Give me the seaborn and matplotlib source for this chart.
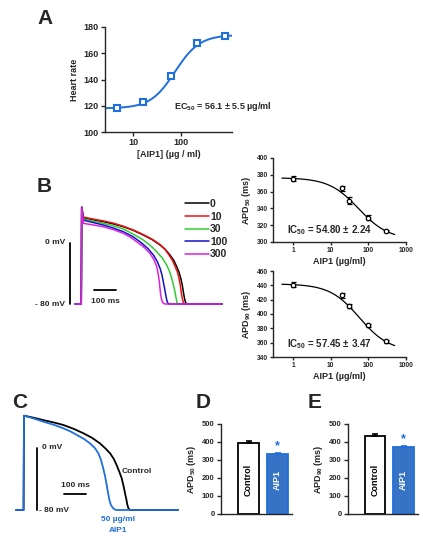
import numpy as np
import pandas as pd
import matplotlib
matplotlib.use('Agg')
import matplotlib.pyplot as plt
from matplotlib.ticker import NullLocator, FixedLocator
import seaborn as sbn

sbn.set_style('ticks')
plt.rcParams['font.family'] = ['Liberation Sans', 'DejaVu Sans']
plt.rcParams['font.weight'] = 'bold'
plt.rcParams['mathtext.fontset'] = 'custom'
plt.rcParams['mathtext.rm'] = 'Liberation Sans:bold'
plt.rcParams['mathtext.bf'] = 'Liberation Sans:bold'
plt.rcParams['mathtext.default'] = 'rm'
plt.rcParams['axes.linewidth'] = 1.0

W, H = 423, 541
BLUE = '#1f6fdc'

# ---- panel A: heart rate vs [AIP1]
hr_conc = [4.6, 16, 62, 215, 830]
hr_rate = [118, 122.5, 142.5, 167.5, 173]
hr_fit = {'bottom': 118, 'top': 174, 'ec50': 75, 'hill': -1.7}

# ---- panel B: action potentials (time ms, voltage mV)
ap_doses = ['0', '10', '30', '100', '300']
ap_colors = ['black', '#ee1111', '#33cc33', '#1111cc', '#dd22dd']
ap_t_0 = [-30, -2, 0, 8, 50, 98, 145, 189, 235, 280, 320, 356, 380, 401, 418, 432, 442, 450, 457, 462, 467, 471, 475, 481, 638]
ap_v_0 = [-80, -80, 47, 33, 30.5, 28, 25, 21.4, 16.5, 10.5, 4.5, -2.6, -8.5, -15.7, -22.5, -31, -38, -46, -55, -64, -72, -77, -79.3, -80, -80]
ap_t_10 = [-30, -2, 0, 8, 50, 98, 145, 189, 235, 280, 320, 356, 378, 395, 412, 425, 435, 442, 448, 452, 457, 461, 465, 470, 638]
ap_v_10 = [-80, -80, 47, 34, 31.5, 29, 26, 22, 17, 11, 5, -2, -8, -15, -22.5, -31, -38, -46, -55, -64, -72, -77, -79.3, -80, -80]
ap_t_30 = [-30, -2, 0, 8, 50, 98, 145, 189, 235, 280, 315, 341, 366, 386, 399, 409, 417, 424, 429, 433, 437, 442, 638]
ap_v_30 = [-80, -80, 47, 31.5, 28.7, 25.8, 22.4, 18.4, 11.5, 3.9, -4, -11.4, -19.5, -28.9, -37, -46, -55, -64, -72, -77.8, -79.5, -80, -80]
ap_t_100 = [-30, -2, 0, 8, 50, 98, 145, 189, 230, 265, 300, 326, 343, 356, 365, 371, 377, 382, 386, 390, 394, 400, 638]
ap_v_100 = [-80, -80, 47, 30, 27, 23.6, 19.5, 14.8, 8.8, 1.7, -7, -15.7, -24, -33, -42, -51, -60, -68, -74, -78, -79.5, -80, -80]
ap_t_300 = [-30, -2, 0, 8, 50, 98, 145, 189, 222, 250, 285, 310, 328, 341, 348, 353, 356, 359, 363, 368, 373, 380, 638]
ap_v_300 = [-80, -80, 47, 25.8, 23.8, 21.4, 17.5, 12.7, 7.5, 1.7, -6, -13.5, -21.5, -31, -41, -51, -60, -68, -74, -78, -79.5, -80, -80]
ap_traces = [(ap_t_0, ap_v_0), (ap_t_10, ap_v_10), (ap_t_30, ap_v_30),
             (ap_t_100, ap_v_100), (ap_t_300, ap_v_300)]

# ---- panel B right: APD dose response
apd_conc = [1, 20, 30, 100, 300]
apd50 = [375.5, 364, 349, 329, 313]
apd50_err = [3, 3, 4, 3, 1.5]
apd50_fit = {'bottom': 303, 'top': 376.5, 'ec50': 54.8, 'hill': 1.1}
apd90 = [441, 426, 411, 384, 362]
apd90_err = [3, 3, 3, 2, 2]
apd90_fit = {'bottom': 348, 'top': 442, 'ec50': 57.45, 'hill': 1.1}

# ---- panel C: control vs 50 ug/ml AIP1
c_t_ctrl = [-36, -2, 0, 45, 88, 135, 179, 225, 270, 310, 345, 370, 391, 408, 421, 433, 444, 452, 459, 465, 470, 475, 482, 700]
c_v_ctrl = [-80, -80, 41.7, 39, 36, 33, 29.7, 24.8, 19, 13, 6, -0.5, -6.8, -14, -22, -30.5, -39, -48.5, -58, -66, -73.5, -78, -80, -80]
c_t_aip = [-36, -2, 0, 45, 88, 135, 179, 212, 240, 272, 300, 322, 338, 350, 360, 369, 376, 382, 388, 395, 406, 414, 421, 700]
c_v_aip = [-80, -80, 41.7, 38, 34, 30, 25.4, 21.3, 16.8, 11.8, 6, 0, -6.8, -15.5, -26, -37, -48, -58, -67, -73.5, -78, -79.5, -80, -80]

# ---- panels D, E: bars
groups = ['Control', 'AIP1']
d_vals = [397, 334]
d_err = [6, 7]
e_vals = [436, 374]
e_err = [6, 4]


def rect(x0, y0, x1, y1):
    return [x0 / W, 1 - y1 / H, (x1 - x0) / W, (y1 - y0) / H]


def hill(x, p):
    return p['bottom'] + (p['top'] - p['bottom']) / (1 + (x / p['ec50']) ** p['hill'])


def style_ax(ax, size):
    sbn.despine(ax=ax)
    ax.tick_params(direction='out', length=3, width=1, labelsize=size, pad=1.5)
    for lab in ax.get_xticklabels() + ax.get_yticklabels():
        lab.set_fontweight('bold')


fig = plt.figure(figsize=(W / 100, H / 100), dpi=100)

# ===== A
axA = fig.add_axes(rect(105, 27, 232, 132))
axA.set_xscale('log')
xx = np.logspace(np.log10(2.6), np.log10(1150), 200)
sbn.lineplot(x=xx, y=hill(xx, hr_fit), color=BLUE, lw=1.4, ax=axA)
axA.plot(hr_conc, hr_rate, 's', ms=5, mfc='white', mec=BLUE, mew=1.5)
axA.set_xlim(2.6, 1150)
axA.set_ylim(100, 180)
axA.set_yticks([100, 120, 140, 160, 180])
axA.xaxis.set_major_locator(FixedLocator([10, 100]))
axA.xaxis.set_minor_locator(NullLocator())
axA.set_xticklabels(['10', '100'])
style_ax(axA, 6.5)
axA.set_ylabel('Heart rate', fontsize=6.5, fontweight='bold', labelpad=3)
axA.set_xlabel('[AIP1] (µg / ml)', fontsize=6.5, fontweight='bold', labelpad=2)
axA.text(0.54, 0.24, 'EC$_{50}$ = 56.1 ± 5.5 µg/ml', transform=axA.transAxes,
         fontsize=6.5, fontweight='bold', va='center')

# ===== B traces
axB = fig.add_axes(rect(30, 180, 225, 315))
axB.set_axis_off()
for (t, v), c, lab in zip(ap_traces, ap_colors, ap_doses):
    sbn.lineplot(x=t, y=v, color=c, lw=1.1, sort=False, estimator=None, ax=axB, label=lab)
axB.set_xlim((30 - 81.7) / 0.22, (225 - 81.7) / 0.22)
axB.set_ylim((243 - 315) * 80 / 61, (243 - 180) * 80 / 61)
axB.plot([-53, -53], [0, -80], color='black', lw=1.3)
axB.plot([56, 156], [-62, -62], color='black', lw=1.3)
axB.text(106, -77, '100 ms', ha='center', va='center', fontsize=6)
axB.text(-76, 0, '0 mV', ha='right', va='center', fontsize=6)
axB.text(-76, -81, '- 80 mV', ha='right', va='center', fontsize=6)
axB.legend(loc='upper left', bbox_to_anchor=(185 / W, 1 - 199 / H), bbox_transform=fig.transFigure,
           frameon=False, prop={'weight': 'bold', 'size': 7.5}, handlelength=2.3,
           handletextpad=0.1, labelspacing=0.25, borderpad=0, borderaxespad=0)

# ===== B right panels
for (top, bot, vals, errs, fit, ylim, yt, lab, ic) in [
        (158, 242, apd50, apd50_err, apd50_fit, (300, 400), range(300, 401, 20),
         'APD$_{50}$ (ms)', 'IC$_{50}$ = 54.80 ± 2.24'),
        (271, 357, apd90, apd90_err, apd90_fit, (340, 460), range(340, 461, 20),
         'APD$_{90}$ (ms)', 'IC$_{50}$ = 57.45 ± 3.47')]:
    ax = fig.add_axes(rect(273, top, 406, bot))
    ax.set_xscale('log')
    xx = np.logspace(np.log10(0.5), np.log10(500), 200)
    sbn.lineplot(x=xx, y=hill(xx, fit), color='black', lw=0.9, ax=ax)
    ax.errorbar(apd_conc, vals, yerr=errs, fmt='o', ms=3.2, mfc='white', mec='black',
                mew=0.9, ecolor='black', elinewidth=0.8, capsize=1.8)
    ax.set_xlim(0.29, 1000)
    ax.set_ylim(*ylim)
    ax.set_yticks(list(yt))
    ax.xaxis.set_major_locator(FixedLocator([1, 10, 100, 1000]))
    ax.xaxis.set_minor_locator(NullLocator())
    ax.set_xticklabels(['1', '10', '100', '1000'])
    style_ax(ax, 4.8)
    ax.tick_params(length=2)
    ax.set_ylabel(lab, fontsize=6.5, fontweight='bold', labelpad=3)
    ax.set_xlabel('AIP1 (µg/ml)', fontsize=6.5, fontweight='bold', labelpad=2)
    ax.text(0.105, 0.145, ic, transform=ax.transAxes, fontsize=7, fontweight='bold', va='center')

# ===== C traces
axC = fig.add_axes(rect(0, 405, 190, 540))
axC.set_axis_off()
sbn.lineplot(x=c_t_ctrl, y=c_v_ctrl, color='black', lw=1.3, sort=False, estimator=None, ax=axC)
sbn.lineplot(x=c_t_aip, y=c_v_aip, color=BLUE, lw=1.3, sort=False, estimator=None, ax=axC)
axC.set_xlim(-24 / 0.22, 166 / 0.22)
axC.set_ylim((448 - 540) / 0.775, (448 - 405) / 0.775)
axC.plot([59, 59], [0, -80], color='black', lw=1.3)
axC.plot([182, 282], [-59.4, -59.4], color='black', lw=1.3)
axC.text(232, -48, '100 ms', ha='center', va='center', fontsize=6)
axC.text(82, 1, '0 mV', ha='left', va='center', fontsize=6)
axC.text(70, -80, '- 80 mV', ha='left', va='center', fontsize=6)
axC.text(445, -30, 'Control', ha='left', va='center', fontsize=6)
axC.text(427, -92, '50 µg/ml', ha='center', va='center', fontsize=6, color=BLUE)
axC.text(427, -107, 'AIP1', ha='center', va='center', fontsize=6, color=BLUE)

# ===== D, E bars
for (x0, x1, vals, errs, lab) in [(221, 292, d_vals, d_err, 'APD$_{50}$ (ms)'),
                                  (348, 418, e_vals, e_err, 'APD$_{90}$ (ms)')]:
    ax = fig.add_axes(rect(x0, 424, x1, 514))
    df = pd.DataFrame({'group': groups, 'value': vals})
    sbn.barplot(data=df, x='group', y='value', hue='group', palette=['white', BLUE],
                width=0.72, errorbar=None, legend=False, ax=ax)
    for p, ec in zip(ax.patches, ['black', BLUE]):
        p.set_edgecolor(ec)
        p.set_linewidth(1.3)
    ax.errorbar([0], [vals[0]], yerr=[[0], [errs[0]]], fmt='none', ecolor='black',
                elinewidth=1.2, capsize=2.5, capthick=1.2)
    ax.errorbar([1], [vals[1]], yerr=[[0], [errs[1]]], fmt='none', ecolor=BLUE,
                elinewidth=1.2, capsize=2.5, capthick=1.2)
    ax.text(1, vals[1] + errs[1] + 35, '*', ha='center', va='center', fontsize=9, color=BLUE)
    ax.text(0, 190, 'Control', rotation=90, ha='center', va='center', fontsize=6.5, color='black')
    ax.text(1, 190, 'AIP1', rotation=90, ha='center', va='center', fontsize=6.5, color='white')
    ax.set_xlim(-0.95, 1.5)
    ax.set_ylim(0, 500)
    ax.set_yticks(range(0, 501, 100))
    ax.set_xticks([])
    ax.set_xlabel('')
    style_ax(ax, 5.5)
    ax.set_ylabel(lab, fontsize=6.5, fontweight='bold', labelpad=3)

# panel letters
for letter, x, y in [('A', 45, 18), ('B', 44, 187), ('C', 20, 402), ('D', 203, 402), ('E', 315, 402)]:
    fig.text(x / W, 1 - y / H, letter, fontsize=15, fontweight='bold', ha='center', va='center')

fig.savefig('out.png', dpi=100)
